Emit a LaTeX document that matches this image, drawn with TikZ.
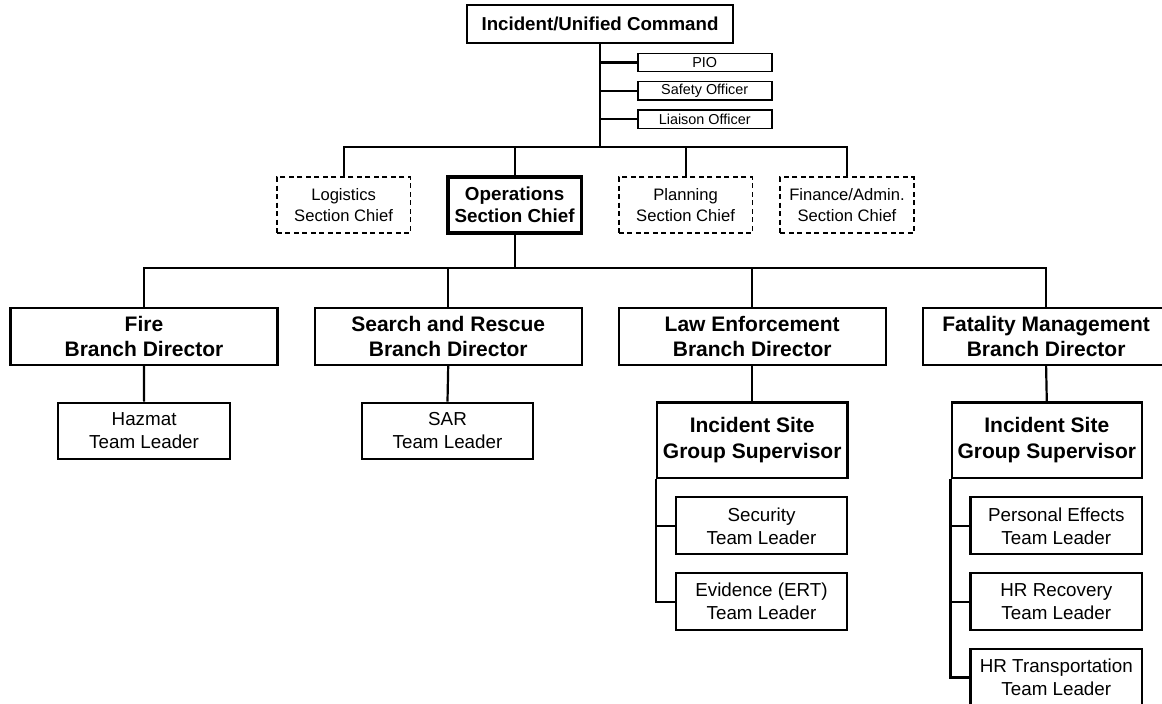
\documentclass[tikz,border=0pt]{standalone}
\usepackage{fontspec}
\setmainfont{Liberation Sans}
\begin{document}
\begin{tikzpicture}[x=1pt,y=-1pt,
  every node/.style={inner sep=0pt, align=center},
  conn/.style={line width=2.2pt},
  cmdbox/.style={draw, line width=1.9pt, minimum width=266.6pt, minimum height=37.4pt,
    font=\fontsize{18.7}{21.7}\selectfont\bfseries},
  staffbox/.style={draw, line width=1.6pt, minimum width=134pt, minimum height=18.3pt,
    font=\fontsize{14.4}{16}\selectfont},
  secbox/.style={draw, dashed, dash pattern=on 5pt off 3.5pt, line width=1.6pt,
    minimum width=133.5pt, minimum height=56pt, font=\fontsize{16.6}{21}\selectfont},
  opsbox/.style={draw, line width=3.3pt, minimum width=133.5pt, minimum height=56pt,
    font=\fontsize{18.8}{21.7}\selectfont\bfseries},
  branchbox/.style={draw, line width=2.1pt, minimum width=267pt, minimum height=56.7pt,
    font=\fontsize{21}{25.5}\selectfont\bfseries},
  supbox/.style={draw, line width=2.1pt, minimum width=190.5pt, minimum height=75.4pt,
    font=\fontsize{21}{26}\selectfont\bfseries},
  teambox/.style={draw, line width=2.1pt, minimum width=171.6pt, minimum height=56.8pt,
    font=\fontsize{18.8}{23}\selectfont}]
\useasboundingbox (0,0) rectangle (1162,704);
\clip (0,0) rectangle (1162,704);

% command and staff
\node[cmdbox] (cmd) at (600,24) {Incident/Unified Command};
\node[staffbox] (pio) at (704.7,62.5) {PIO};
\node[staffbox] (safe) at (704.7,90.8) {Safety Officer};
\node[staffbox] (liai) at (704.7,119.2) {Liaison Officer};

% sections
\node[secbox] (log) at (343.6,205) {Logistics\\Section Chief};
\node[opsbox] (ops) at (514.6,205) {Operations\\Section Chief};
\node[secbox] (plan) at (685.6,205) {Planning\\Section Chief};
\node[secbox] (fin) at (847,205) {Finance/Admin.\\Section Chief};

% branches
\node[branchbox] (fire) at (144,336.7) {Fire\\Branch Director};
\node[branchbox] (sar) at (448.2,336.7) {Search and Rescue\\Branch Director};
\node[branchbox] (law) at (752.2,336.7) {Law Enforcement\\Branch Director};
\node[branchbox, minimum width=247pt] (fat) at (1046.1,336.7) {Fatality Management\\Branch Director};

% groups and teams
\node[teambox] (haz) at (144.1,431) {Hazmat\\Team Leader};
\node[teambox] (sart) at (447.5,431) {SAR\\Team Leader};

\node[supbox] (lsup) at (752.2,440.2) {Incident Site\\Group Supervisor};
\node[teambox] (sec) at (761.5,525.8) {Security\\Team Leader};
\node[teambox] (evid) at (761.5,601.7) {Evidence (ERT)\\Team Leader};

\node[supbox] (fsup) at (1046.8,440.2) {Incident Site\\Group Supervisor};
\node[teambox] (pers) at (1056.3,525.8) {Personal Effects\\Team Leader};
\node[teambox] (hrr) at (1056.3,601.7) {HR Recovery\\Team Leader};
\node[teambox] (hrt) at (1056.3,677.5) {HR Transportation\\Team Leader};

% connectors
\coordinate (sbar) at (600,147.3);
\coordinate (bbar) at (514.6,268.3);
\draw[conn] (cmd.south) -- (sbar);
\foreach \s in {pio,safe,liai}
  \draw[conn] (\s.west) -- (\s.west -| cmd.south);
\draw[conn] (log.north) |- (sbar) -| (fin.north);
\draw[conn] (ops.north) -- (ops.north |- sbar);
\draw[conn] (plan.north) -- (plan.north |- sbar);

\draw[conn] (ops.south) -- (bbar);
\draw[conn] (fire.north) |- (bbar) -| (fat.north);
\draw[conn] (sar.north) -- (sar.north |- bbar);
\draw[conn] (law.north) -- (law.north |- bbar);

\draw[conn] (fire.south) -- (haz.north);
\draw[conn] (sar.south) -- (sart.north);
\draw[conn] (law.south) -- (lsup.north);
\draw[conn] (fat.south) -- (fsup.north);

\draw[conn] (lsup.south west) |- (evid.west);
\draw[conn] (sec.west) -- (sec.west -| lsup.south west);
\draw[conn] (fsup.south west) |- (hrt.west);
\draw[conn] (pers.west) -- (pers.west -| fsup.south west);
\draw[conn] (hrr.west) -- (hrr.west -| fsup.south west);
\end{tikzpicture}
\end{document}
